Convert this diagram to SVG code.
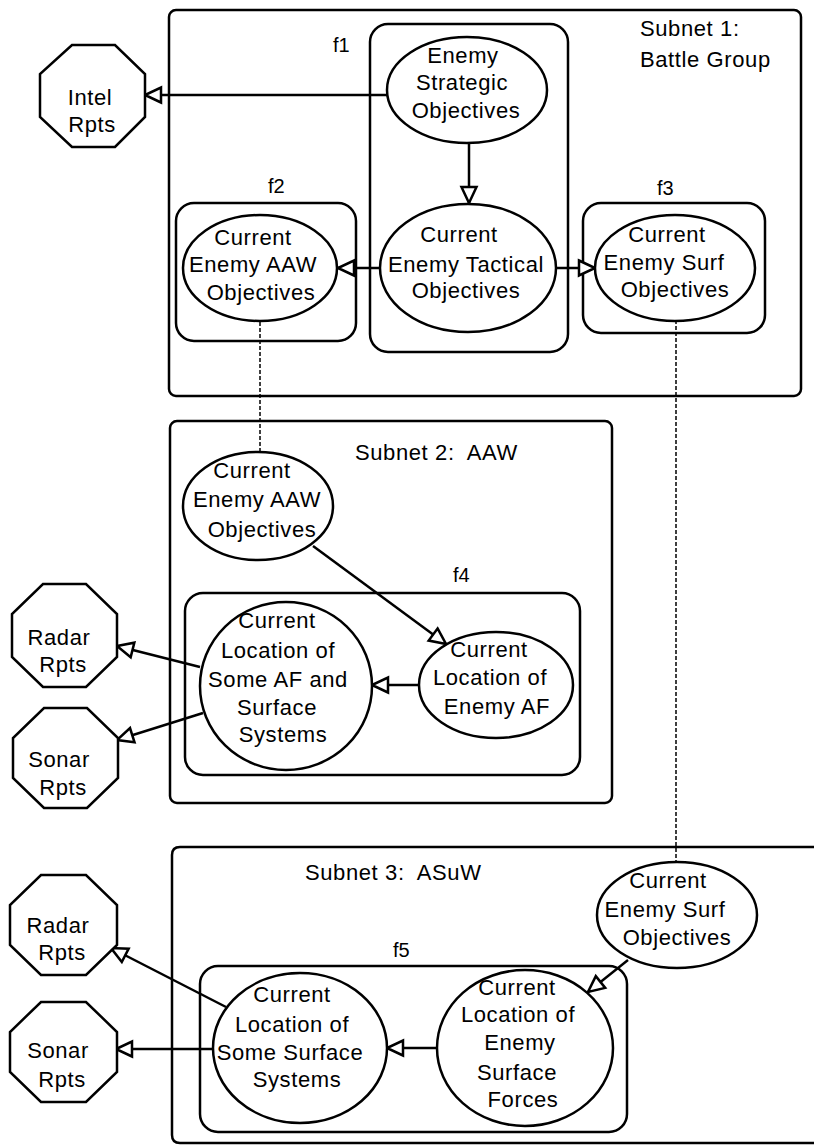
<svg xmlns="http://www.w3.org/2000/svg" width="814" height="1146" viewBox="0 0 814 1146">
<style>
text{font-family:"Liberation Sans",Arial,sans-serif;font-size:22px;fill:#000;letter-spacing:0.6px;white-space:pre}
.c{text-anchor:middle}
.lbl{font-size:20px;letter-spacing:0}
.sub{fill:none;stroke:#000;stroke-width:2.5}
.frame{fill:none;stroke:#000;stroke-width:2.5}
.n{fill:#fff;stroke:#000;stroke-width:2.5}
.e{fill:none;stroke:#000;stroke-width:2.5}
.d{fill:none;stroke:#000;stroke-width:1.5;stroke-dasharray:4 2}
</style>
<defs>
<marker id="ah" viewBox="0 0 20 20" refX="18" refY="10" markerWidth="20" markerHeight="20" markerUnits="userSpaceOnUse" orient="auto">
<path d="M2,2.5 L18,10 L2,17.5 Z" fill="#fff" stroke="#000" stroke-width="2.5" stroke-linejoin="miter"/>
</marker>
</defs>

<g id="subnet1">
<rect class="sub" x="169" y="10" width="632" height="386" rx="7"/>
<text x="640" y="36">Subnet 1:</text>
<text x="640" y="67">Battle Group</text>
</g>
<g id="subnet2">
<rect class="sub" x="170" y="421" width="442" height="382" rx="7"/>
<text x="355" y="460">Subnet 2:  AAW</text>
</g>
<g id="subnet3">
<path class="sub" d="M816,847 H180 Q172,847 172,855 V1135 Q172,1143 180,1143 H816"/>
<text x="305" y="880">Subnet 3:  ASuW</text>
</g>

<g id="f1">
<rect class="frame" x="370" y="24" width="198" height="328" rx="18"/>
<text class="lbl" x="333" y="52">f1</text>
</g>
<g id="f2">
<rect class="frame" x="176" y="203" width="180" height="138" rx="18"/>
<text class="lbl" x="268" y="193">f2</text>
</g>
<g id="f3">
<rect class="frame" x="583" y="203" width="182" height="130" rx="18"/>
<text class="lbl" x="657" y="195">f3</text>
</g>
<g id="f4">
<rect class="frame" x="185" y="593" width="395" height="182" rx="18"/>
<text class="lbl" x="453" y="582">f4</text>
</g>
<g id="f5">
<rect class="frame" x="200" y="966" width="427" height="166" rx="18"/>
<text class="lbl" x="393" y="957">f5</text>
</g>

<g id="connectors">
<line class="e" x1="388" y1="95" x2="145" y2="95" marker-end="url(#ah)"/>
<line class="e" x1="469" y1="143" x2="469" y2="203" marker-end="url(#ah)"/>
<line class="e" x1="380" y1="268" x2="338" y2="268" marker-end="url(#ah)"/>
<line class="e" x1="557" y1="268" x2="595" y2="268" marker-end="url(#ah)"/>
<line class="d" x1="260" y1="322" x2="260" y2="453"/>
<line class="d" x1="676" y1="320" x2="676" y2="862"/>
<line class="e" x1="313" y1="546" x2="446" y2="644" marker-end="url(#ah)"/>
<line class="e" x1="419" y1="685" x2="372" y2="685" marker-end="url(#ah)"/>
<line class="e" x1="200" y1="667" x2="117" y2="646" marker-end="url(#ah)"/>
<line class="e" x1="203" y1="713" x2="117" y2="740" marker-end="url(#ah)"/>
<line class="e" x1="628" y1="960" x2="588" y2="992" marker-end="url(#ah)"/>
<line class="e" x1="437" y1="1048" x2="387" y2="1048" marker-end="url(#ah)"/>
<line class="e" x1="226" y1="1007" x2="111" y2="948" marker-end="url(#ah)"/>
<line class="e" x1="213" y1="1049" x2="116" y2="1049" marker-end="url(#ah)"/>
</g>

<g id="intel">
<polygon class="n" points="72,45 115,45 145,74 145,117 115,147 72,147 40,117 40,74"/>
<text class="c" x="90" y="105">Intel</text>
<text class="c" x="92" y="132">Rpts</text>
</g>
<g id="eso">
<ellipse class="n" cx="467" cy="90" rx="80" ry="53"/>
<text class="c" x="463" y="63">Enemy</text>
<text class="c" x="462" y="90">Strategic</text>
<text class="c" x="466" y="118">Objectives</text>
</g>
<g id="ceto">
<ellipse class="n" cx="468" cy="268" rx="88" ry="64"/>
<text class="c" x="459" y="242">Current</text>
<text class="c" x="466" y="272">Enemy Tactical</text>
<text class="c" x="466" y="298">Objectives</text>
</g>
<g id="aaw1">
<ellipse class="n" cx="260" cy="268" rx="77" ry="53"/>
<text class="c" x="253" y="245">Current</text>
<text class="c" x="253" y="272">Enemy AAW</text>
<text class="c" x="261" y="300">Objectives</text>
</g>
<g id="surf1">
<ellipse class="n" cx="675" cy="268" rx="80" ry="53"/>
<text class="c" x="667" y="242">Current</text>
<text class="c" x="664" y="270">Enemy Surf</text>
<text class="c" x="675" y="297">Objectives</text>
</g>

<g id="aaw2">
<ellipse class="n" cx="258" cy="506" rx="75" ry="54"/>
<text class="c" x="252" y="478">Current</text>
<text class="c" x="257" y="507">Enemy AAW</text>
<text class="c" x="262" y="537">Objectives</text>
</g>
<g id="someaf">
<ellipse class="n" cx="286" cy="686" rx="86" ry="84"/>
<text class="c" x="277" y="628">Current</text>
<text class="c" x="278" y="658">Location of</text>
<text class="c" x="278" y="687">Some AF and</text>
<text class="c" x="277" y="715">Surface</text>
<text class="c" x="283" y="742">Systems</text>
</g>
<g id="enemyaf">
<ellipse class="n" cx="496" cy="685" rx="77" ry="53"/>
<text class="c" x="489" y="657">Current</text>
<text class="c" x="490" y="685">Location of</text>
<text class="c" x="497" y="714">Enemy AF</text>
</g>
<g id="radar2">
<polygon class="n" points="43,584 86,584 117,614 117,657 86,687 43,687 12,657 12,614"/>
<text class="c" x="59" y="645">Radar</text>
<text class="c" x="63" y="672">Rpts</text>
</g>
<g id="sonar2">
<polygon class="n" points="44,708 87,708 118,738 118,778 87,808 44,808 13,778 13,738"/>
<text class="c" x="59" y="767">Sonar</text>
<text class="c" x="63" y="795">Rpts</text>
</g>

<g id="surf2">
<ellipse class="n" cx="677" cy="915" rx="80" ry="53"/>
<text class="c" x="668" y="888">Current</text>
<text class="c" x="665" y="917">Enemy Surf</text>
<text class="c" x="677" y="945">Objectives</text>
</g>
<g id="surfforces">
<ellipse class="n" cx="525" cy="1048" rx="88" ry="78"/>
<text class="c" x="517" y="995">Current</text>
<text class="c" x="518" y="1022">Location of</text>
<text class="c" x="520" y="1050">Enemy</text>
<text class="c" x="517" y="1080">Surface</text>
<text class="c" x="523" y="1107">Forces</text>
</g>
<g id="somesurf">
<ellipse class="n" cx="300" cy="1048" rx="87" ry="75"/>
<text class="c" x="292" y="1002">Current</text>
<text class="c" x="292" y="1032">Location of</text>
<text class="c" x="290" y="1060">Some Surface</text>
<text class="c" x="297" y="1087">Systems</text>
</g>
<g id="radar3">
<polygon class="n" points="41,875 86,875 117,905 117,945 86,975 41,975 10,945 10,905"/>
<text class="c" x="58" y="933">Radar</text>
<text class="c" x="62" y="960">Rpts</text>
</g>
<g id="sonar3">
<polygon class="n" points="41,1002 86,1002 117,1032 117,1072 86,1102 41,1102 10,1072 10,1032"/>
<text class="c" x="58" y="1058">Sonar</text>
<text class="c" x="62" y="1087">Rpts</text>
</g>
</svg>
